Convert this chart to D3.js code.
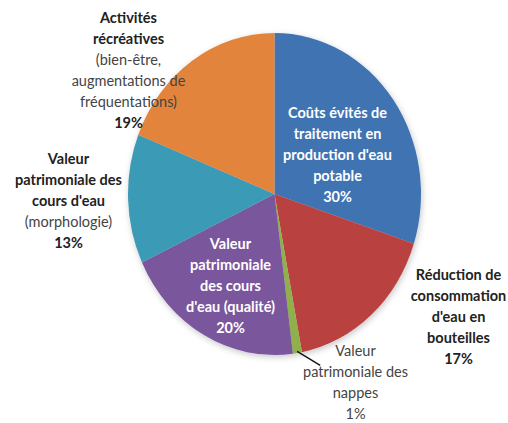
<!DOCTYPE html>
<html>
<head>
<meta charset="utf-8">
<script src="https://cdn.jsdelivr.net/npm/d3@7"></script>
<style>
  body { margin: 0; background: #fff; }
  svg { display: block; }
  text { font-family: Lato, "Open Sans", sans-serif; }
</style>
</head>
<body>
<div id="chart"></div>
<script>
// slices, clockwise from 12 o'clock
const categories = [
  "Coûts évités de traitement en production d'eau potable",
  "Réduction de consommation d'eau en bouteilles",
  "Valeur patrimoniale des nappes",
  "Valeur patrimoniale des cours d'eau (qualité)",
  "Valeur patrimoniale des cours d'eau (morphologie)",
  "Activités récréatives (bien-être, augmentations de fréquentations)"
]
const values = [30, 17, 1, 20, 13, 19]
const percentLabels = ['30%', '17%', '1%', '20%', '13%', '19%']
const colors = ['#3f73b2', '#b94340', '#8fb04c', '#7a569c', '#3b9bb6', '#e3843d']

// label lines: [text, bold]
const labelLines = [
  [["Coûts évités de", 1], ["traitement en", 1], ["production d'eau", 1], ["potable", 1]],
  [["Réduction de", 1], ["consommation", 1], ["d'eau en", 1], ["bouteilles", 1]],
  [["Valeur", 0], ["patrimoniale des", 0], ["nappes", 0]],
  [["Valeur", 1], ["patrimoniale", 1], ["des cours", 1], ["d'eau (qualité)", 1]],
  [["Valeur", 1], ["patrimoniale des", 1], ["cours d'eau", 1], ["(morphologie)", 0]],
  [["Activités", 1], ["récréatives", 1], ["(bien-être,", 0], ["augmentations de", 0], ["fréquentations)", 0]]
]

const width = 508
const height = 423
const cx = 274.5
const cy = 194
const rx = 146.5
const ry = 161
const lineH = 21

// where each label block is centred, relative to the pie centre
const labelOffset = [[63, -39], [184, 123], [81, 188], [-44, 92], [-206, 7], [-146, -124]]
const inside = [true, false, false, true, false, false]

const svg = d3.select('#chart')
  .append('svg')
  .attr('width', width)
  .attr('height', height)

const defs = svg.append('defs')
const f = defs.append('filter').attr('id', 'shadow')
  .attr('x', '-10%').attr('y', '-10%').attr('width', '120%').attr('height', '120%')
f.append('feDropShadow')
  .attr('dx', 1).attr('dy', 2).attr('stdDeviation', 3)
  .attr('flood-color', '#000').attr('flood-opacity', 0.22)

const pie = d3.pie().sort(null).value(d => d)
const arc = d3.arc().innerRadius(0).outerRadius(rx)
const arcs = pie(values)

const g = svg.append('g')
  .attr('transform', `translate(${cx},${cy}) scale(1,${ry / rx})`)
  .attr('filter', 'url(#shadow)')

g.selectAll('path')
  .data(arcs)
  .enter()
  .append('path')
  .attr('d', arc)
  .attr('fill', (d, i) => colors[i])

// leader line for the small slice
const small = arcs[2]
const mid = (small.startAngle + small.endAngle) / 2
const p0 = [cx + rx * 0.99 * Math.sin(mid), cy - ry * 0.99 * Math.cos(mid)]
svg.append('line')
  .attr('x1', p0[0]).attr('y1', p0[1])
  .attr('x2', p0[0] + 23).attr('y2', p0[1] + 14)
  .attr('stroke', '#111')
  .attr('stroke-width', 1.3)

// labels
arcs.forEach((d, i) => {
  const lines = labelLines[i].concat([[percentLabels[i], i === 2 ? 0 : 1]])
  const bx = cx + labelOffset[i][0]
  const by = cy + labelOffset[i][1]
  const top = by - (lines.length - 1) * lineH / 2
  const t = svg.append('g')
  lines.forEach((ln, j) => {
    t.append('text')
      .attr('x', bx)
      .attr('y', top + j * lineH)
      .attr('dy', '0.35em')
      .attr('text-anchor', 'middle')
      .attr('font-size', 14.5)
      .attr('font-weight', ln[1] ? 700 : 400)
      .attr('fill', inside[i] ? '#fff' : (ln[1] ? '#222' : '#444'))
      .text(ln[0])
  })
})
</script>
</body>
</html>
